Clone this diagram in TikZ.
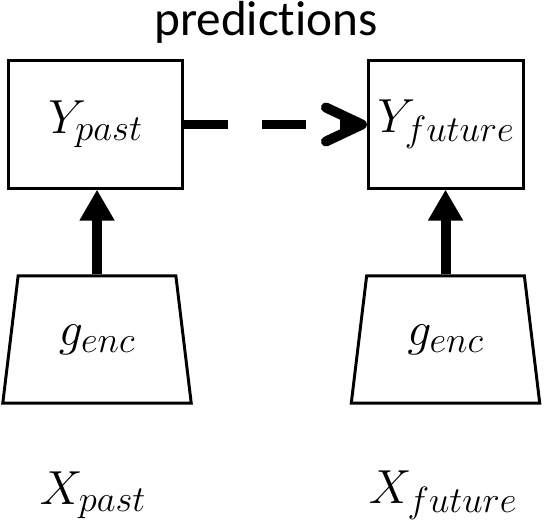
\RequirePackage{fix-cm}
\documentclass[tikz,border=0pt]{standalone}
\usepackage{fontspec}
\newfontfamily\labelfont[Ligatures=NoCommon]{Carlito}
\DeclareMathSizes{34}{34}{26}{20}
\usetikzlibrary{arrows.meta,shapes.geometric}

\begin{document}
\begin{tikzpicture}[x=0.025cm, y=-0.025cm,
    box/.style={draw, line width=2.1pt, inner sep=0pt, minimum height=3.18cm},
    enc/.style={trapezium, trapezium angle=76, trapezium stretches=true, draw, line width=2.1pt,
        minimum width=4.74cm, minimum height=3.18cm, inner sep=0pt},
    mathlbl/.style={font=\fontsize{34}{40}\selectfont},
    flow/.style={line width=7.1pt, -{Triangle[length=0.775cm, width=0.825cm]}},
    pred/.style={line width=7.1pt, dash pattern=on 1.1cm off 0.85cm,
        -{Straight Barb[round, length=0.9cm, width=0.85cm]}}]

    % Keep the page the size of the figure
    \useasboundingbox (0,0) rectangle (544,524);

    % Output boxes
    \node[box, minimum width=4.35cm, mathlbl] (ypast) at (95.5,124.5) {$Y_{past}$};
    \node[box, minimum width=3.88cm, mathlbl] (yfuture) at (446,124.5) {$Y_{future}$};
    \node[font=\labelfont\fontsize{35}{40}\selectfont] (predlbl) at (266,22) {predictions};

    % Encoders
    \node[enc, mathlbl] (encpast) at (97,339.5) {$g_{enc}$};
    \node[enc, mathlbl] (encfuture) at (445.5,339.5) {$g_{enc}$};

    % Inputs
    \node[mathlbl] (xpast) at (93,495) {$X_{past}$};
    \node[mathlbl] (xfuture) at (443,495) {$X_{future}$};

    % Draw arrows
    \draw[flow] (encpast.north) -- (encpast.north |- ypast.south);
    \draw[flow] (encfuture.north) -- (encfuture.north |- yfuture.south);
    \draw[pred] (ypast.east) -- (yfuture.west);

\end{tikzpicture}
\end{document}
